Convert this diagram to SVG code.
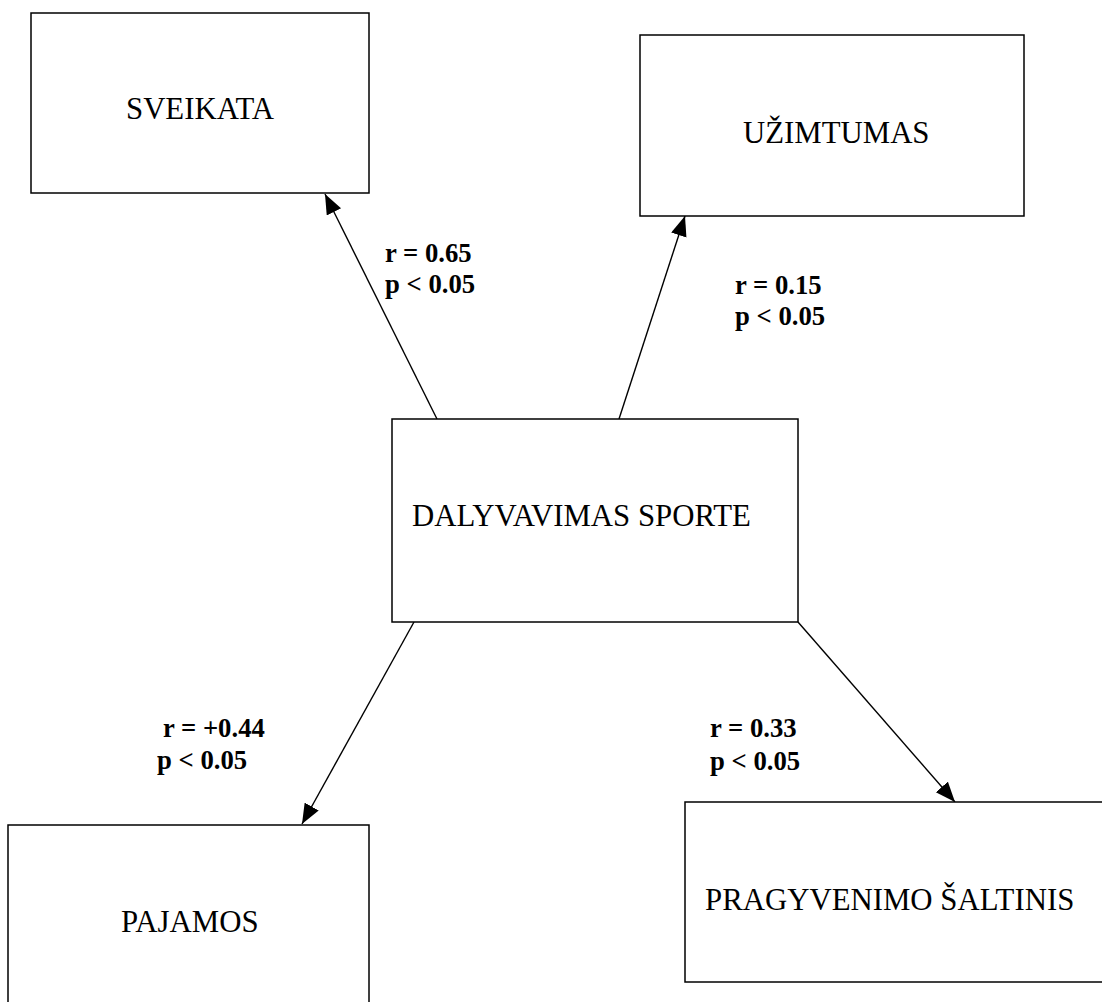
<svg xmlns="http://www.w3.org/2000/svg" width="1102" height="1002" viewBox="0 0 1102 1002">
<style>
.box{fill:#fff;stroke:#000;stroke-width:1.5}
.t{font-family:"Liberation Serif","Times New Roman",serif;font-size:30.8px;fill:#000}
.lbl{font-family:"Liberation Serif","Times New Roman",serif;font-size:26.7px;font-weight:bold;fill:#000}
.c{stroke:#000;stroke-width:1.4;fill:none;marker-end:url(#ah)}
</style>
<defs>
<marker id="ah" markerUnits="userSpaceOnUse" markerWidth="21" markerHeight="17" refX="20" refY="8" orient="auto">
<path d="M0,0 L20,8 L0,16 z" fill="#000"/>
</marker>
</defs>
<rect width="1102" height="1002" fill="#fff"/>
<g id="connectors">
<line class="c" x1="437" y1="419" x2="325" y2="194"/>
<line class="c" x1="619" y1="419" x2="685" y2="216"/>
<line class="c" x1="414" y1="622" x2="302" y2="824"/>
<line class="c" x1="798" y1="622" x2="955" y2="802"/>
<text class="lbl" x="385" y="262">r = 0.65</text>
<text class="lbl" x="385" y="293">p &lt; 0.05</text>
<text class="lbl" x="735" y="294">r = 0.15</text>
<text class="lbl" x="735" y="325">p &lt; 0.05</text>
<text class="lbl" x="163" y="737">r = +0.44</text>
<text class="lbl" x="157" y="769">p &lt; 0.05</text>
<text class="lbl" x="710" y="737">r = 0.33</text>
<text class="lbl" x="710" y="770">p &lt; 0.05</text>
</g>
<g id="sveikata">
<rect class="box" x="31" y="13" width="338" height="180"/>
<text class="t" x="126" y="119">SVEIKATA</text>
</g>
<g id="uzimtumas">
<rect class="box" x="640" y="35" width="384" height="181"/>
<text class="t" x="743" y="143">UŽIMTUMAS</text>
</g>
<g id="dalyvavimas">
<rect class="box" x="392" y="419" width="406" height="203"/>
<text class="t" x="412" y="526">DALYVAVIMAS SPORTE</text>
</g>
<g id="pajamos">
<rect class="box" x="8" y="825" width="361" height="190"/>
<text class="t" x="121" y="932">PAJAMOS</text>
</g>
<g id="pragyvenimo">
<rect class="box" x="685" y="802" width="430" height="180"/>
<text class="t" x="705" y="910">PRAGYVENIMO ŠALTINIS</text>
</g>
</svg>
